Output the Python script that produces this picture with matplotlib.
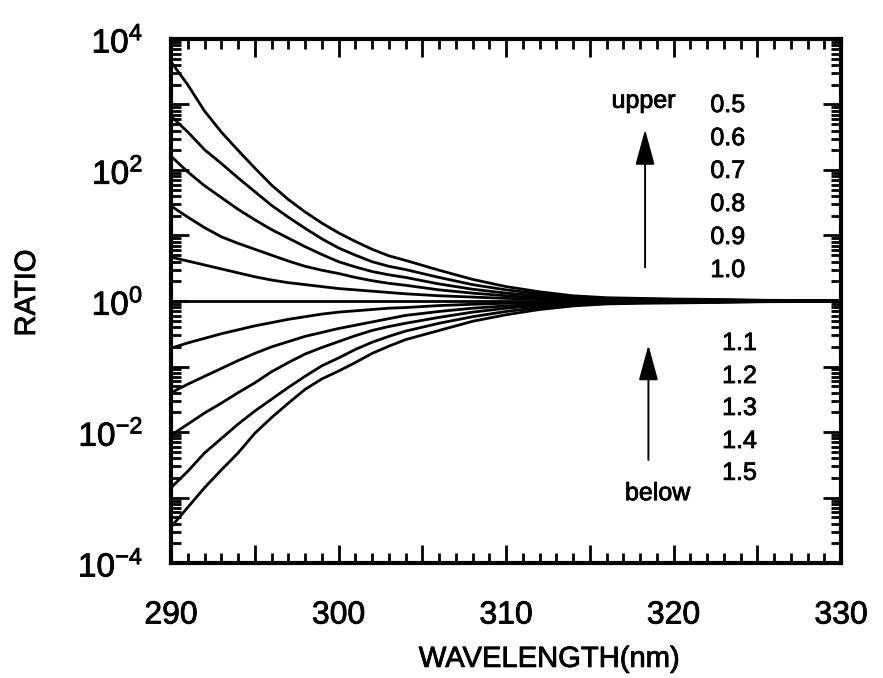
import matplotlib
matplotlib.use("Agg")
import matplotlib.pyplot as plt
import matplotlib.patheffects as pe
import numpy as np
from matplotlib.ticker import LogLocator, NullFormatter, MultipleLocator

plt.rcParams['font.family'] = ['Liberation Sans', 'DejaVu Sans']
plt.rcParams['mathtext.fontset'] = 'custom'
plt.rcParams['mathtext.rm'] = 'Liberation Sans'

wavelength = [290, 291, 292, 293, 294, 295, 296, 297, 298, 299, 300, 301, 302, 303,
              304, 306, 308, 310, 312, 314, 316, 318, 320, 322, 325, 330]

# log10(ratio) for each ozone factor
log_ratio_05 = [3.65, 3.30, 2.90, 2.58, 2.30, 2.03, 1.77, 1.55, 1.36, 1.19, 1.04, 0.91, 0.79,
                0.69, 0.62, 0.47, 0.33, 0.22, 0.14, 0.08, 0.05, 0.04, 0.03, 0.025, 0.012, 0.005]
log_ratio_06 = [2.82, 2.58, 2.31, 2.10, 1.88, 1.67, 1.46, 1.28, 1.11, 0.95, 0.81, 0.70, 0.60,
                0.53, 0.48, 0.36, 0.25, 0.17, 0.11, 0.065, 0.04, 0.03, 0.024, 0.02, 0.01, 0.004]
log_ratio_07 = [2.21, 1.97, 1.76, 1.58, 1.40, 1.24, 1.09, 0.96, 0.83, 0.71, 0.60, 0.52, 0.45,
                0.40, 0.36, 0.26, 0.18, 0.12, 0.08, 0.045, 0.03, 0.02, 0.016, 0.014, 0.007, 0.003]
log_ratio_08 = [1.45, 1.28, 1.12, 0.98, 0.88, 0.79, 0.70, 0.61, 0.53, 0.47, 0.42, 0.36, 0.31,
                0.27, 0.24, 0.17, 0.12, 0.08, 0.05, 0.03, 0.02, 0.012, 0.01, 0.008, 0.004, 0.002]
log_ratio_09 = [0.67, 0.61, 0.55, 0.49, 0.43, 0.37, 0.32, 0.28, 0.25, 0.22, 0.19, 0.17, 0.15,
                0.13, 0.11, 0.08, 0.06, 0.04, 0.025, 0.015, 0.01, 0.006, 0.005, 0.004, 0.002, 0.001]
log_ratio_10 = [0.0] * 26
log_ratio_11 = [-0.72, -0.64, -0.57, -0.50, -0.44, -0.38, -0.33, -0.28, -0.24, -0.20, -0.17,
                -0.15, -0.13, -0.11, -0.10, -0.07, -0.05, -0.035, -0.02, -0.012, -0.008, -0.006,
                -0.005, -0.004, -0.002, -0.001]
log_ratio_12 = [-1.40, -1.27, -1.15, -1.03, -0.91, -0.80, -0.70, -0.62, -0.54, -0.48, -0.42,
                -0.37, -0.32, -0.27, -0.22, -0.16, -0.11, -0.075, -0.05, -0.03, -0.018, -0.012,
                -0.01, -0.008, -0.004, -0.002]
log_ratio_13 = [-2.05, -1.88, -1.71, -1.56, -1.40, -1.25, -1.08, -0.94, -0.81, -0.71, -0.62,
                -0.53, -0.45, -0.39, -0.34, -0.25, -0.17, -0.11, -0.07, -0.04, -0.027, -0.02,
                -0.016, -0.013, -0.007, -0.003]
log_ratio_14 = [-2.85, -2.60, -2.32, -2.10, -1.88, -1.68, -1.50, -1.32, -1.15, -0.99, -0.87,
                -0.74, -0.63, -0.54, -0.46, -0.34, -0.24, -0.16, -0.10, -0.06, -0.036, -0.026,
                -0.022, -0.018, -0.01, -0.004]
log_ratio_15 = [-3.45, -3.15, -2.85, -2.58, -2.32, -2.02, -1.78, -1.56, -1.35, -1.19, -1.07,
                -0.94, -0.80, -0.69, -0.59, -0.45, -0.31, -0.21, -0.13, -0.075, -0.045, -0.035,
                -0.03, -0.024, -0.012, -0.005]

all_curves = [log_ratio_05, log_ratio_06, log_ratio_07, log_ratio_08, log_ratio_09, log_ratio_10,
              log_ratio_11, log_ratio_12, log_ratio_13, log_ratio_14, log_ratio_15]

upper_labels = ['0.5', '0.6', '0.7', '0.8', '0.9', '1.0']
lower_labels = ['1.1', '1.2', '1.3', '1.4', '1.5']

x_ticks = [290, 295, 300, 305, 310, 315, 320, 325, 330]
x_ticklabels = ['290', '', '300', '', '310', '', '320', '', '330']
y_exponents = [-4, -3, -2, -1, 0, 1, 2, 3, 4]

# slightly heavier text, like the scanned original
heavy = [pe.withStroke(linewidth=0.6, foreground='black')]

fig = plt.figure(figsize=(8.83, 6.78), dpi=100)
ax = fig.add_axes([0.1937, 0.1696, 0.7588, 0.7729])

for curve in all_curves:
    ax.plot(wavelength, 10 ** np.array(curve), color='black', lw=2.0)

ax.set_yscale('log')
ax.set_xlim(290, 330)
ax.set_ylim(1e-4, 1e4)

ax.set_xticks(x_ticks)
ax.set_xticklabels(x_ticklabels)
ax.xaxis.set_minor_locator(MultipleLocator(1))

ax.set_yticks([10.0 ** e for e in y_exponents])
ax.set_yticklabels([r'$\mathregular{10^{%d}}$' % e if e % 2 == 0 else '' for e in y_exponents])
ax.yaxis.set_minor_locator(LogLocator(base=10, subs=np.arange(2, 10), numticks=20))
ax.yaxis.set_minor_formatter(NullFormatter())

ax.tick_params(which='both', direction='in', top=True, right=True, width=2, color='black')
ax.tick_params(which='major', length=13)
ax.tick_params(which='minor', length=7)
ax.tick_params(axis='x', which='major', labelsize=23, pad=27)
ax.tick_params(axis='y', which='major', labelsize=24, pad=20)

for lbl in ax.get_xticklabels() + ax.get_yticklabels():
    lbl.set_path_effects(heavy)

for sp in ax.spines.values():
    sp.set_linewidth(3)

ax.set_xlabel('WAVELENGTH(nm)', fontsize=21, va='center', path_effects=heavy)
ax.xaxis.set_label_coords(0.564, -0.183)
ax.set_ylabel('RATIO', fontsize=21, va='center', path_effects=heavy)
ax.yaxis.set_label_coords(-0.215, 0.515)

# annotation text and arrows
ax.text(316.3, 10 ** 2.95, 'upper', fontsize=18, va='baseline', ha='left', path_effects=heavy)
upper_base = [2.885, 2.38, 1.88, 1.374, 0.87, 0.366]
for lab, yb in zip(upper_labels, upper_base):
    ax.text(322.2, 10 ** yb, lab, fontsize=18, va='baseline', ha='left', path_effects=heavy)
lower_base = [-0.748, -1.252, -1.74, -2.244, -2.73]
for lab, yb in zip(lower_labels, lower_base):
    ax.text(322.9, 10 ** yb, lab, fontsize=18, va='baseline', ha='left', path_effects=heavy)
ax.text(317.1, 10 ** -3.04, 'below', fontsize=18, va='baseline', ha='left', path_effects=heavy)

arrow_style = dict(arrowstyle='-|>,head_length=2.2,head_width=0.6', color='black', lw=1.4)
ax.annotate('', xy=(318.3, 10 ** 2.66), xytext=(318.3, 10 ** 0.47), arrowprops=arrow_style)
ax.annotate('', xy=(318.5, 10 ** -0.63), xytext=(318.5, 10 ** -2.47), arrowprops=arrow_style)

plt.savefig('out.png', dpi=100)
